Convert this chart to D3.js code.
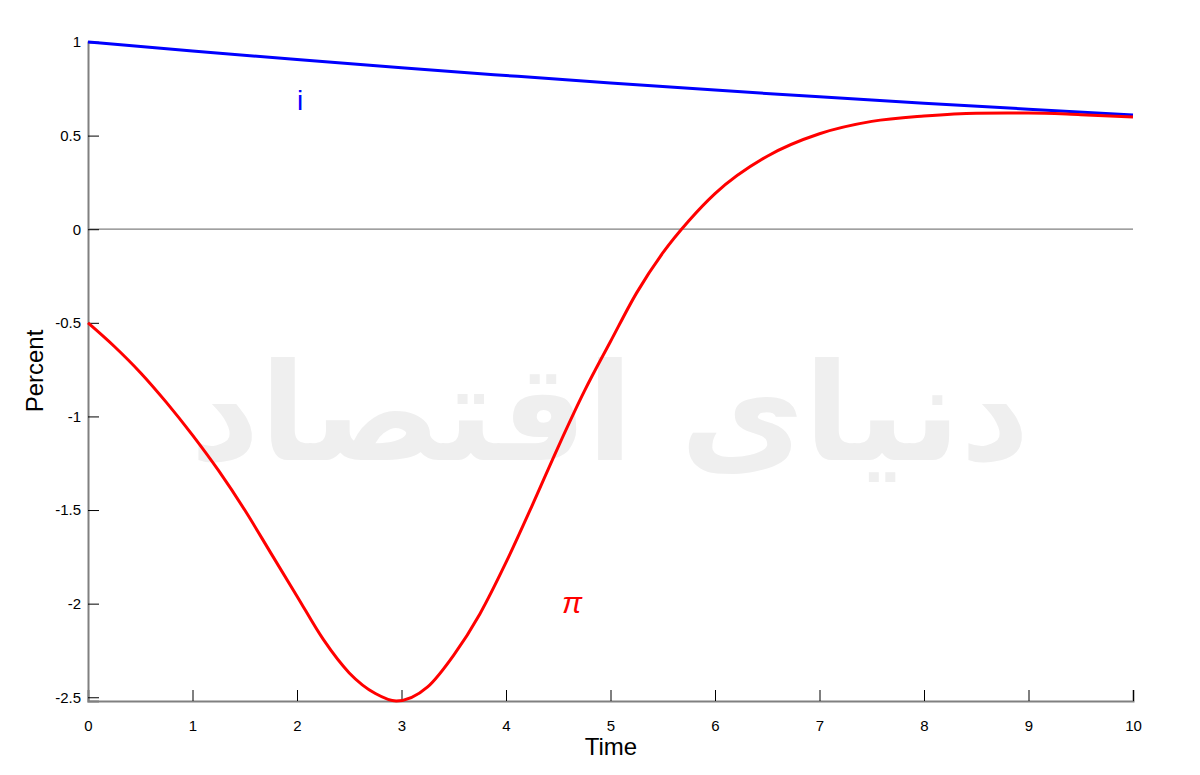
<!DOCTYPE html>
<html><head><meta charset="utf-8">
<script src="https://cdn.jsdelivr.net/npm/d3@7"></script>
<style>body{margin:0;background:#fff}svg{display:block}</style>
</head><body>
<svg id="c" width="1200" height="775"></svg>
<script>
const time = [0,0.25,0.5,0.75,1,1.25,1.5,1.75,2,2.25,2.5,2.75,2.95,3.25,3.5,3.75,4,4.25,4.5,4.75,5,5.25,5.5,5.75,6,6.5,7,7.5,8,8.5,9,9.5,10];
const piValues = [-0.5,-0.625,-0.765,-0.925,-1.10,-1.29,-1.50,-1.73,-1.96,-2.19,-2.37,-2.48,-2.52,-2.445,-2.275,-2.055,-1.78,-1.476,-1.162,-0.865,-0.60,-0.34,-0.127,0.045,0.19,0.39,0.51,0.576,0.605,0.62,0.621,0.612,0.60];
const iTime = [0,1,2,3,4,5,6,7,8,9,10];
const iValues = [1.0,0.952,0.906,0.862,0.821,0.781,0.743,0.707,0.673,0.641,0.61];
const xTicks = [0,1,2,3,4,5,6,7,8,9,10];
const yTicks = [-2.5,-2,-1.5,-1,-0.5,0,0.5,1];
const yTickLabels = ["-2.5","-2","-1.5","-1","-0.5","0","0.5","1"];
const xLabel = "Time", yLabel = "Percent";
const watermark = "دنیای اقتصاد";

const svg = d3.select("#c");
const x = d3.scaleLinear().domain([0,10]).range([88,1133]);
const y = d3.scaleLinear().domain([-2.52,1]).range([701,42]);
const font = "'Liberation Sans', Arial, Helvetica, sans-serif";

// watermark
svg.append("text").attr("x",610).attr("y",460).attr("text-anchor","middle")
  .attr("font-family","'DejaVu Sans', sans-serif").attr("font-size",135).attr("font-weight","bold")
  .attr("fill","#efefef").text(watermark);

// zero line
svg.append("line").attr("x1",x(0)).attr("x2",x(10)).attr("y1",y(0)).attr("y2",y(0))
  .attr("stroke","#808080").attr("stroke-width",1.2);

// axes
const xAxis = svg.append("g").attr("transform",`translate(0,${y(-2.52)})`)
  .call(d3.axisBottom(x).tickValues(xTicks).tickSize(-11).tickPadding(19).tickFormat(d3.format("d")));
const yAxis = svg.append("g").attr("transform",`translate(${x(0)},0)`)
  .call(d3.axisLeft(y).tickValues(yTicks).tickSize(-11).tickPadding(7).tickFormat((d,i)=>yTickLabels[i]));
[xAxis,yAxis].forEach(g=>{
  g.select(".domain").attr("stroke","#808080").attr("stroke-width",2);
  g.selectAll(".tick line").attr("stroke","#000").attr("stroke-width",1);
  g.selectAll(".tick text").attr("font-family",font).attr("font-size",15).attr("fill","#000");
});

// lines
const line = d3.line().curve(d3.curveMonotoneX);
svg.append("path").attr("d",line(iTime.map((t,k)=>[x(t),y(iValues[k])])))
  .attr("fill","none").attr("stroke","#0000ff").attr("stroke-width",3);
svg.append("path").attr("d",line(time.map((t,k)=>[x(t),y(piValues[k])])))
  .attr("fill","none").attr("stroke","#ff0000").attr("stroke-width",3);

// labels
svg.append("text").attr("x",300).attr("y",110).attr("text-anchor","middle")
  .attr("font-family",font).attr("font-size",28).attr("fill","#0000ff").text("i");
svg.append("text").attr("x",572).attr("y",613).attr("text-anchor","middle")
  .attr("font-family",font).attr("font-size",30).attr("font-style","italic").attr("fill","#ff0000").text("π");

svg.append("text").attr("x",611).attr("y",755).attr("text-anchor","middle")
  .attr("font-family",font).attr("font-size",24).attr("fill","#000").text(xLabel);
svg.append("text").attr("transform","translate(43,371) rotate(-90)").attr("text-anchor","middle")
  .attr("font-family",font).attr("font-size",24).attr("fill","#000").text(yLabel);
</script>
</body></html>
